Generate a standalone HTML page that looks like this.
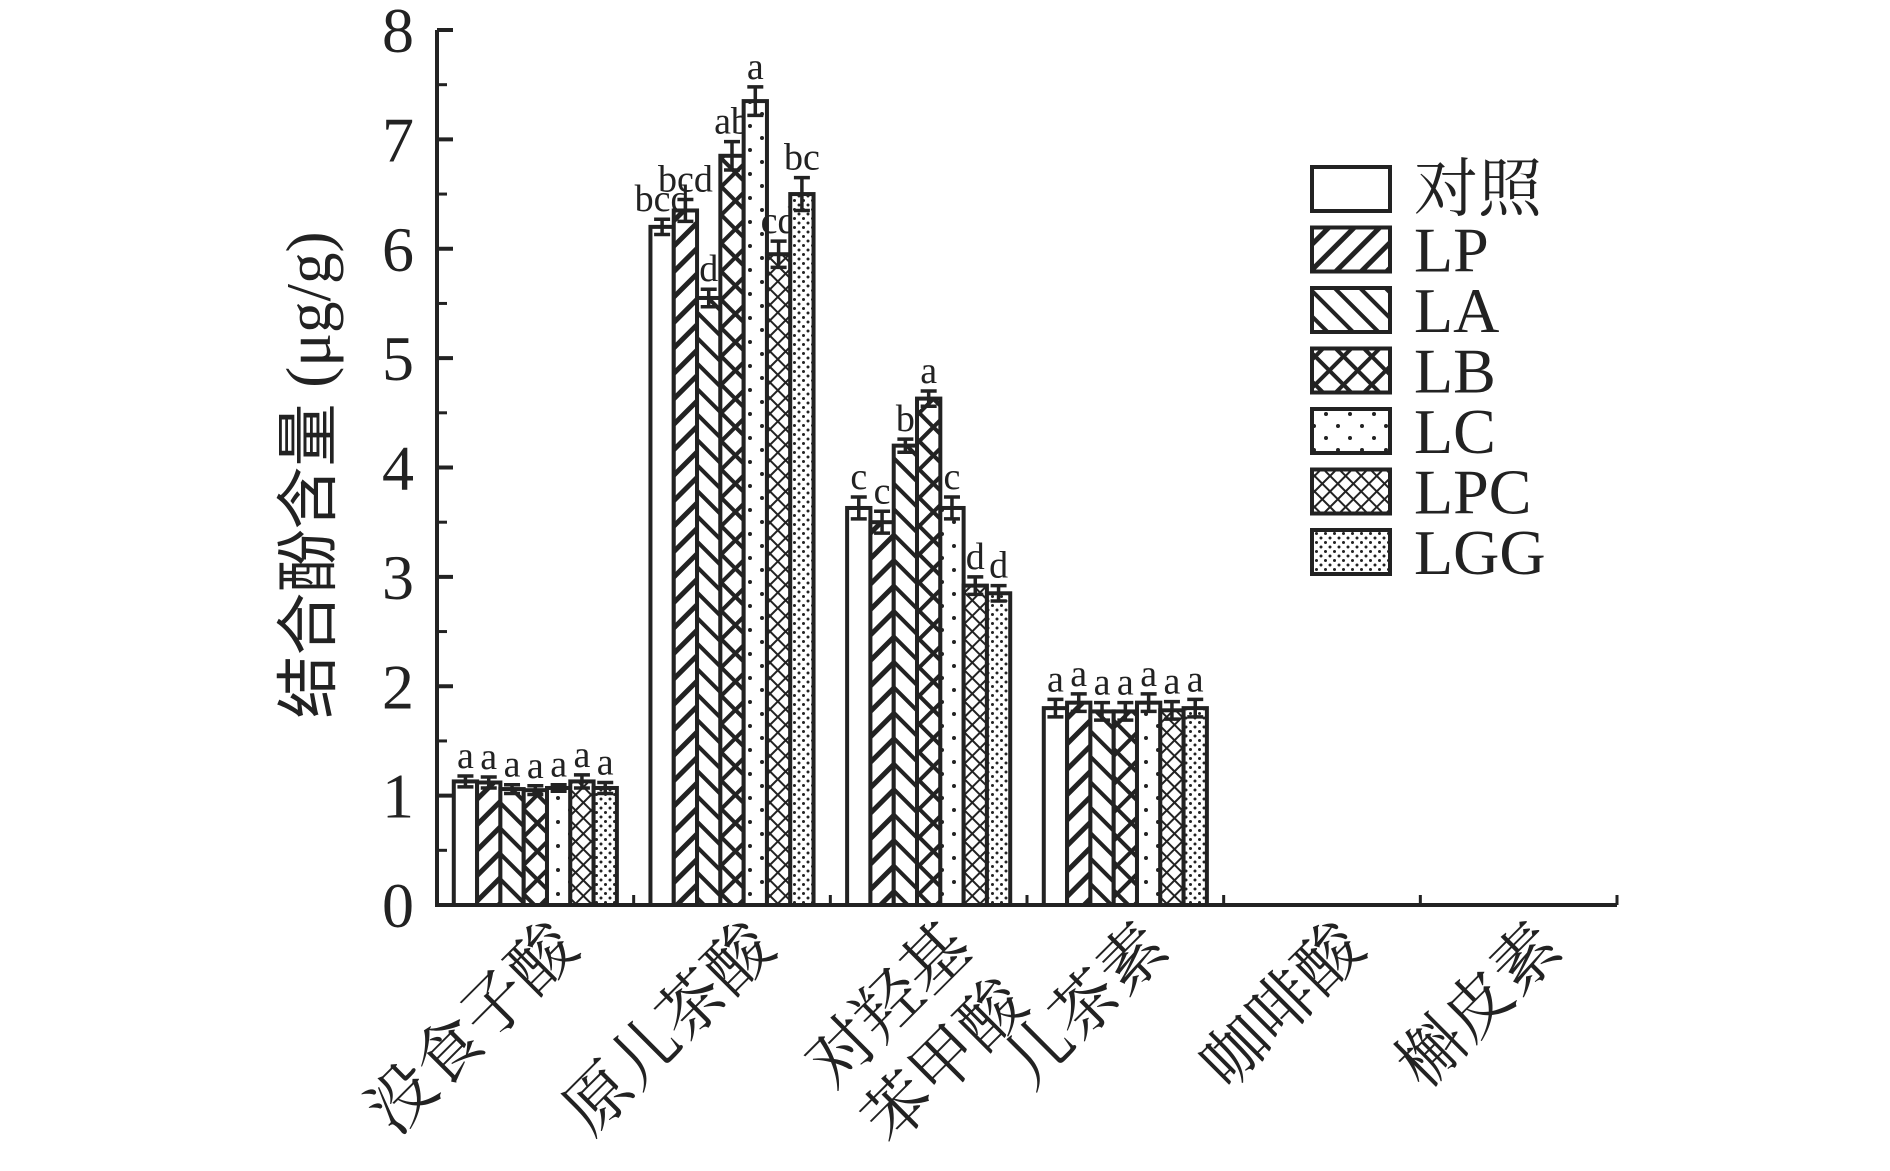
<!DOCTYPE html>
<html><head><meta charset="utf-8">
<style>
html,body{margin:0;padding:0;background:#fff;}
svg{display:block;font-family:"Liberation Serif","Noto Serif CJK SC",serif;}
</style></head>
<body>
<svg id="chart" width="1890" height="1171" viewBox="0 0 1890 1171" xmlns="http://www.w3.org/2000/svg">
<defs>
<pattern id="p-lp" patternUnits="userSpaceOnUse" width="18" height="18" patternTransform="rotate(45)"><rect width="18" height="18" fill="#fff"/><rect x="0" y="0" width="5" height="18" fill="#222"/></pattern>
<pattern id="p-la" patternUnits="userSpaceOnUse" width="18" height="18" patternTransform="rotate(-45)"><rect width="18" height="18" fill="#fff"/><rect x="0" y="0" width="4" height="18" fill="#222"/></pattern>
<pattern id="p-lb" patternUnits="userSpaceOnUse" width="20" height="20" patternTransform="rotate(45)"><rect width="20" height="20" fill="#fff"/><rect x="0" y="0" width="4" height="20" fill="#222"/><rect x="0" y="0" width="20" height="4" fill="#222"/></pattern>
<pattern id="p-lc" patternUnits="userSpaceOnUse" width="24" height="24"><rect width="24" height="24" fill="#fff"/><circle cx="6" cy="6" r="2" fill="#222"/><circle cx="18" cy="18" r="2" fill="#222"/></pattern>
<pattern id="p-lpc" patternUnits="userSpaceOnUse" width="11" height="11" patternTransform="rotate(45)"><rect width="11" height="11" fill="#fff"/><rect x="0" y="0" width="2" height="11" fill="#222"/><rect x="0" y="0" width="11" height="2" fill="#222"/></pattern>
<pattern id="p-lgg" patternUnits="userSpaceOnUse" width="9" height="9"><rect width="9" height="9" fill="#fff"/><circle cx="2.5" cy="2.5" r="1.5" fill="#222"/><circle cx="7" cy="7" r="1.5" fill="#222"/></pattern>
</defs>
<g id="plot"></g>
</svg>
<script>
const categories = ["没食子酸","原儿茶酸","对羟基\n苯甲酸","儿茶素","咖啡酸","槲皮素"];
const seriesNames = ["对照","LP","LA","LB","LC","LPC","LGG"];
const valCK  = [1.13,6.20,3.63,1.80,0,0];
const valLP  = [1.12,6.35,3.50,1.85,0,0];
const valLA  = [1.06,5.55,4.20,1.77,0,0];
const valLB  = [1.05,6.85,4.63,1.77,0,0];
const valLC  = [1.07,7.35,3.63,1.85,0,0];
const valLPC = [1.13,5.95,2.92,1.78,0,0];
const valLGG = [1.07,6.50,2.85,1.80,0,0];
const errCK  = [0.05,0.07,0.10,0.08,0,0];
const errLP  = [0.05,0.10,0.10,0.08,0,0];
const errLA  = [0.04,0.08,0.06,0.08,0,0];
const errLB  = [0.04,0.13,0.07,0.08,0,0];
const errLC  = [0.03,0.13,0.10,0.08,0,0];
const errLPC = [0.06,0.12,0.08,0.08,0,0];
const errLGG = [0.05,0.15,0.07,0.08,0,0];
const letCK  = ["a","bcd","c","a","",""];
const letLP  = ["a","bcd","c","a","",""];
const letLA  = ["a","d","b","a","",""];
const letLB  = ["a","ab","a","a","",""];
const letLC  = ["a","a","c","a","",""];
const letLPC = ["a","cd","d","a","",""];
const letLGG = ["a","bc","d","a","",""];
const yTicks = [0,1,2,3,4,5,6,7,8];

const values=[valCK,valLP,valLA,valLB,valLC,valLPC,valLGG];
const errs=[errCK,errLP,errLA,errLB,errLC,errLPC,errLGG];
const lets=[letCK,letLP,letLA,letLB,letLC,letLPC,letLGG];
const fills=["#fff","url(#p-lp)","url(#p-la)","url(#p-lb)","url(#p-lc)","url(#p-lpc)","url(#p-lgg)"];
const NS="http://www.w3.org/2000/svg";
const g=document.getElementById('plot');
const X0=437,X1=1617,Y0=905,Ytop=30,YMAX=8;
const catW=(X1-X0)/categories.length, barW=23.3;
const y=v=>Y0-(v/YMAX)*(Y0-Ytop);
const xc=i=>X0+catW*(i+0.5);
function mk(t,a,p){const e=document.createElementNS(NS,t);for(const k in a)e.setAttribute(k,a[k]);(p||g).appendChild(e);return e;}

for(let s=0;s<values.length;s++){
  for(let i=0;i<categories.length;i++){
    const v=values[s][i]; if(v<=0) continue;
    const bx=xc(i)-barW*3.5+s*barW;
    const r=mk('rect',{x:bx,y:y(v),width:barW,height:Y0-y(v),fill:fills[s],stroke:'#222','stroke-width':4});
    
    
    const e=errs[s][i], cx=bx+barW/2;
    const eb=mk('path',{d:`M${cx} ${y(v+e)}V${y(v-e)}M${cx-8} ${y(v+e)}H${cx+8}M${cx-8} ${y(v-e)}H${cx+8}`,stroke:'#222','stroke-width':3.5,fill:'none'});
    
    
    const t=mk('text',{x:cx,y:y(v+e)-8,'text-anchor':'middle','font-size':38,fill:'#222'});
    t.textContent=lets[s][i];
    
    
  }
}
const ax=mk('path',{d:`M${X0} ${Ytop}V${Y0}H${X1}`,stroke:'#222','stroke-width':4,fill:'none'});


for(let k=0;k<yTicks.length;k++){
  const yy=y(yTicks[k]);
  mk('line',{x1:X0,x2:X0+16,y1:yy,y2:yy,stroke:'#222','stroke-width':4});
  if(k<yTicks.length-1){const ym=y(yTicks[k]+0.5);mk('line',{x1:X0,x2:X0+10,y1:ym,y2:ym,stroke:'#222','stroke-width':3});}
  const t=mk('text',{x:414,y:yy+22,'text-anchor':'end','font-size':64,fill:'#222'});
  t.textContent=yTicks[k];
  
  
}
for(let i=1;i<=categories.length;i++){
  const xx=X0+catW*i;
  mk('line',{x1:xx,x2:xx,y1:Y0,y2:Y0-10,stroke:'#222','stroke-width':3});
}
for(let i=0;i<categories.length;i++){
  const lines=categories[i].split('\n');
  const ax0=xc(i)+46, ay0=Y0+46;
  lines.forEach((ln,j)=>{
    const t=mk('text',{x:0,y:0,'text-anchor':'end','font-size':66,fill:'#222',
      'font-family':'"Noto Serif CJK SC","Noto Sans CJK SC",serif',
      transform:`translate(${ax0+j*56},${ay0+j*56}) rotate(-45)`});
    t.textContent=ln;
    
    
  });
}
const yt=mk('text',{x:0,y:0,'text-anchor':'middle','font-size':63,fill:'#222',transform:'translate(330,475) rotate(-90)','font-family':'"Liberation Serif","Noto Sans CJK SC",serif'});
yt.textContent='结合酚含量 (μg/g)';


for(let s=0;s<seriesNames.length;s++){
  const ly=167+s*60.5;
  const r=mk('rect',{x:1328-16,y:ly,width:78,height:44,fill:fills[s],stroke:'#222','stroke-width':4});
  
  
  const t=mk('text',{x:1430-16,y:ly+44,'font-size':64,fill:'#222','font-family':'"Liberation Serif","Noto Serif CJK SC",serif'});
  t.textContent=seriesNames[s];
  
  
}
</script>
</body></html>
